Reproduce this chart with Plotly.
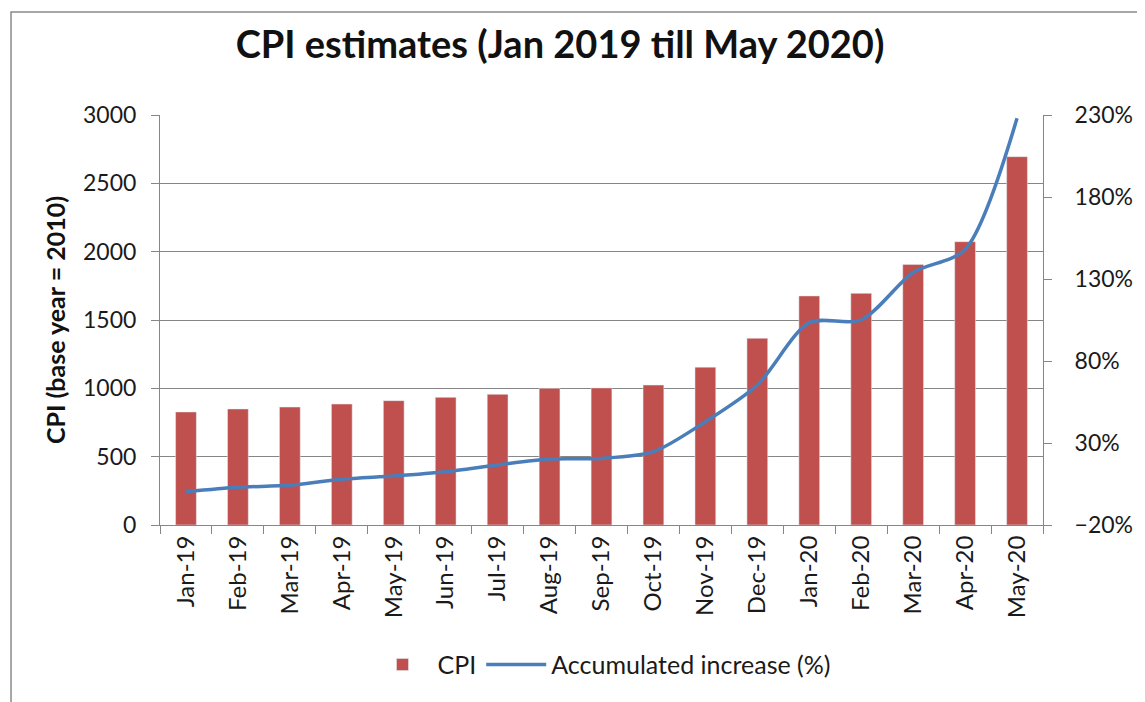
import plotly.graph_objects as go

months = ["Jan-19", "Feb-19", "Mar-19", "Apr-19", "May-19", "Jun-19", "Jul-19", "Aug-19",
          "Sep-19", "Oct-19", "Nov-19", "Dec-19", "Jan-20", "Feb-20", "Mar-20", "Apr-20", "May-20"]
cpi = [827, 849, 863, 885, 910, 934, 956, 1000, 1003, 1024, 1155, 1366, 1676, 1695, 1907, 2073, 2695]
accum_pct = [0.3, 3, 4.2, 7.9, 9.9, 12.5, 16.6, 20.2, 20.6, 24.7, 43, 65.4, 103.4, 105, 134, 148, 228]

FONT = "Lato"
GRID = "#868686"
TXT = "#1a1a1a"

fig = go.Figure()
fig.add_trace(go.Bar(x=months, y=cpi, name="CPI", marker_color="#C0504D",
                     width=0.4, yaxis="y"))
fig.add_trace(go.Scatter(x=months, y=accum_pct, name="Accumulated increase (%)",
                         mode="lines", line=dict(color="#4A7EBB", width=3.5,
                                                 shape="spline", smoothing=0.8),
                         yaxis="y2"))

W, H = 1137, 694
fig.update_layout(
    width=W, height=H,
    margin=dict(l=152, r=90, t=107, b=177),
    paper_bgcolor="white", plot_bgcolor="white",
    font=dict(family=FONT, color=TXT, size=22),
    title=dict(text="<b>CPI estimates (Jan 2019 till May 2020)</b>",
               font=dict(family=FONT, size=38, color="#111"),
               xref="container", x=552 / W, xanchor="center",
               yref="container", y=1 - 37 / H, yanchor="middle"),
    xaxis=dict(showline=True, linecolor=GRID, linewidth=1, ticks="outside",
               tickson="boundaries", ticklen=8, tickcolor=GRID, tickangle=-90,
               tickfont=dict(size=24, family=FONT, color=TXT), showgrid=False),
    yaxis=dict(range=[0, 3000], dtick=500, showgrid=True, gridcolor=GRID, gridwidth=1,
               showline=True, linecolor=GRID, ticks="outside", ticklen=8, tickcolor=GRID,
               tickfont=dict(size=23, family=FONT, color=TXT), zeroline=False,
               ticklabelstandoff=10,
               title=dict(text="<b>CPI (base year = 2010)</b>",
                          font=dict(size=25, family=FONT, color="#111"), standoff=10)),
    yaxis2=dict(range=[-20, 230], tick0=-20, dtick=50, overlaying="y", side="right",
                showgrid=False, showline=True, linecolor=GRID, ticks="outside",
                ticklen=8, tickcolor=GRID, ticksuffix="%", zeroline=False,
                ticklabelstandoff=18,
                tickfont=dict(size=23, family=FONT, color=TXT)),
    legend=dict(orientation="h", x=0.5, xanchor="center", y=-0.341, yanchor="middle",
                font=dict(size=25, family=FONT, color=TXT), itemwidth=60),
    showlegend=True,
)

fig.add_shape(type="rect", xref="paper", yref="paper",
              x0=(1 - 152) / 895, x1=1.3, y0=-0.6, y1=1 + (107 - 4) / 410,
              line=dict(color="#8a8a8a", width=1.5), layer="below")

fig.write_html("out.html")
